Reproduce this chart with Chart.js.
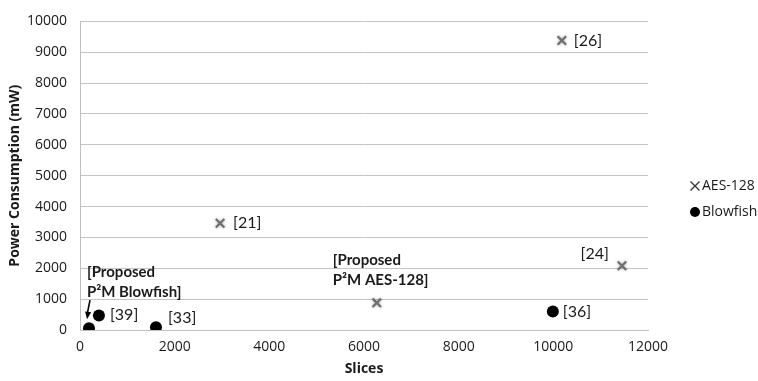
<!DOCTYPE html>
<html>
<head>
<meta charset="utf-8">
<script src="https://cdn.jsdelivr.net/npm/chart.js@4.4.1/dist/chart.umd.min.js"></script>
<style>
  html, body { margin: 0; padding: 0; background: #ffffff; }
  #wrap { width: 758px; height: 381px; }
</style>
</head>
<body>
<div id="wrap"><canvas id="c" width="758" height="381"></canvas></div>
<script>
// ---- data ----
const seriesNames = ['AES-128', 'Blowfish'];
const aesSlices = [10180, 2960, 6270, 11450];
const aesPower  = [9380, 3460, 880, 2080];
const aesLabels = ['[26]', '[21]', '[Proposed\nP²M AES-128]', '[24]'];
const blowSlices = [190, 400, 1605, 9990];
const blowPower  = [60, 470, 90, 600];
const blowLabels = ['[Proposed\nP²M Blowfish]', '[39]', '[33]', '[36]'];
const xTickMax = 12000, xTickStep = 2000;
const yTickMax = 10000, yTickStep = 1000;
const xTitle = 'Slices';
const yTitle = 'Power Consumption (mW)';

// ---- label styling (offsets from each point, in px) ----
const labelStyle = {
  0: [
    {dx: 12, dy: 0, align: 'left', bold: false},
    {dx: 13, dy: 0, align: 'left', bold: false},
    {dx: -44, dy: -43, align: 'left', bold: true},
    {dx: -13, dy: -12, align: 'right', bold: false}
  ],
  1: [
    {dx: -2, dy: -56, align: 'left', bold: true, arrow: true},
    {dx: 11, dy: -1, align: 'left', bold: false},
    {dx: 12, dy: -9, align: 'left', bold: false},
    {dx: 10, dy: 0, align: 'left', bold: false}
  ]
};

const pointLabels = {
  id: 'pointLabels',
  beforeDatasetDraw(chart, args) {
    const ctx = chart.ctx;
    ctx.save();
    if (args.index === 0) {
      ctx.shadowColor = 'rgba(0,0,0,0.35)';
      ctx.shadowBlur = 3;
    }
  },
  afterDatasetDraw(chart) {
    chart.ctx.restore();
  },
  afterDatasetsDraw(chart) {
    const ctx = chart.ctx;
    const xs = chart.scales.x, ys = chart.scales.y;
    chart.data.datasets.forEach((ds, di) => {
      const texts = di === 0 ? aesLabels : blowLabels;
      ds.data.forEach((pt, i) => {
        const st = labelStyle[di][i];
        const px = xs.getPixelForValue(pt.x);
        const py = ys.getPixelForValue(pt.y);
        const lines = texts[i].split('\n');
        ctx.save();
        ctx.fillStyle = '#1a1a1a';
        ctx.textAlign = st.align;
        ctx.textBaseline = 'middle';
        ctx.font = st.bold ? 'bold 15px Lato' : '16px Lato';
        lines.forEach((ln, k) => {
          ctx.fillText(ln, px + st.dx, py + st.dy + k * 20);
        });
        if (st.arrow) {
          const tx = px - 2, ty = py - 9;
          const sx = px + 1, sy = py - 28;
          ctx.strokeStyle = '#000';
          ctx.lineWidth = 1.6;
          ctx.beginPath();
          ctx.moveTo(sx, sy);
          ctx.lineTo(tx, ty - 4);
          ctx.stroke();
          const ang = Math.atan2(ty - sy, tx - sx);
          ctx.fillStyle = '#000';
          ctx.beginPath();
          ctx.moveTo(tx, ty);
          ctx.lineTo(tx - 8 * Math.cos(ang - 0.4), ty - 8 * Math.sin(ang - 0.4));
          ctx.lineTo(tx - 8 * Math.cos(ang + 0.4), ty - 8 * Math.sin(ang + 0.4));
          ctx.closePath();
          ctx.fill();
        }
        ctx.restore();
      });
    });
    // legend
    ctx.save();
    ctx.font = '14px "Open Sans"';
    ctx.textAlign = 'left';
    ctx.textBaseline = 'middle';
    ctx.fillStyle = '#1a1a1a';
    const lx = 695, ly0 = 186, ly1 = 212;
    ctx.strokeStyle = '#333';
    ctx.lineWidth = 1.3;
    ctx.beginPath();
    ctx.moveTo(lx - 4.5, ly0 - 4.5); ctx.lineTo(lx + 4.5, ly0 + 4.5);
    ctx.moveTo(lx + 4.5, ly0 - 4.5); ctx.lineTo(lx - 4.5, ly0 + 4.5);
    ctx.stroke();
    ctx.fillText(seriesNames[0], lx + 7, ly0);
    ctx.fillStyle = '#000';
    ctx.beginPath();
    ctx.arc(lx, ly1, 5, 0, Math.PI * 2);
    ctx.fill();
    ctx.fillStyle = '#1a1a1a';
    ctx.fillText(seriesNames[1], lx + 7, ly1);
    ctx.restore();
  }
};

const toPoints = (xs, ys) => xs.map((x, i) => ({x: x, y: ys[i]}));
const plain = (v) => String(v);

new Chart(document.getElementById('c'), {
  type: 'scatter',
  data: {
    datasets: [
      {
        label: seriesNames[0],
        data: toPoints(aesSlices, aesPower),
        pointStyle: 'crossRot',
        pointRadius: 6,
        pointHoverRadius: 6,
        borderColor: '#6e6e6e',
        backgroundColor: '#6e6e6e',
        pointBorderWidth: 2.2
      },
      {
        label: seriesNames[1],
        data: toPoints(blowSlices, blowPower),
        pointStyle: 'circle',
        pointRadius: 6,
        pointHoverRadius: 6,
        borderColor: '#000',
        backgroundColor: '#000',
        pointBorderWidth: 0
      }
    ]
  },
  options: {
    responsive: false,
    animation: false,
    devicePixelRatio: 1,
    layout: { padding: { top: 12, right: 110, left: 0, bottom: 0 } },
    plugins: { legend: { display: false }, tooltip: { enabled: false } },
    scales: {
      x: {
        type: 'linear',
        min: 0, max: xTickMax,
        ticks: { stepSize: xTickStep, padding: 9, color: '#1a1a1a', font: { family: 'Open Sans', size: 14 }, callback: plain },
        grid: { display: false, drawTicks: false },
        border: { display: true, color: '#bfbfbf', width: 1 },
        title: { display: true, text: xTitle, color: '#1a1a1a', font: { family: 'Open Sans', size: 14, weight: 'bold' }, padding: { top: 0, bottom: 4 } },
        afterFit: (s) => { s.height = 51; }
      },
      y: {
        type: 'linear',
        min: 0, max: yTickMax,
        ticks: { stepSize: yTickStep, padding: 13, color: '#1a1a1a', font: { family: 'Open Sans', size: 14 }, callback: plain },
        grid: { color: '#c4c4c4', lineWidth: 1, drawTicks: false },
        border: { display: true, color: '#bfbfbf', width: 1 },
        title: { display: true, text: yTitle, color: '#1a1a1a', font: { family: 'Open Sans', size: 14, weight: 'bold' }, padding: { top: 7, bottom: 0 } },
        afterFit: (s) => { s.width = 80; }
      }
    }
  },
  plugins: [pointLabels]
});
</script>
</body>
</html>
